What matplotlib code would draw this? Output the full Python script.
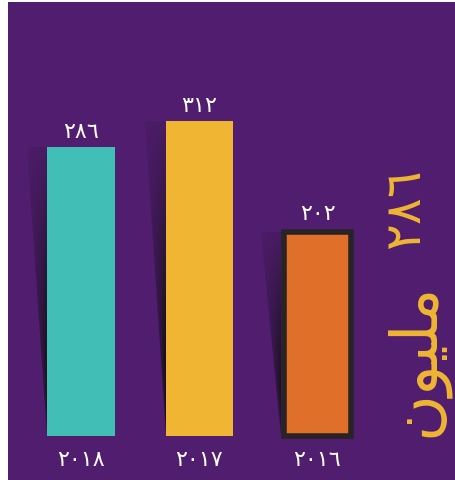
"""Yearly totals as flat bars with wedge shadows on a purple panel."""

import matplotlib

matplotlib.use("Agg")
import matplotlib.pyplot as plt
import numpy as np
from matplotlib.patches import Polygon

# data, newest year first (right-to-left layout)
years = [2018, 2017, 2016]
values = [286, 312, 202]
bar_colors = ["#41bfb6", "#efb533", "#e07029"]
outlined = [False, False, True]

# "مليون" in presentation forms, visual (left-to-right) order
unit_word = "\ufee5\ufeee\ufef4\ufee0\ufee3"

BG = "#511d6f"
TEXT = "#ffffff"
ACCENT = "#efb533"
OUTLINE = "#272326"

AR_DIGITS = str.maketrans("0123456789", "٠١٢٣٤٥٦٧٨٩")


def ar(n):
    return str(n).translate(AR_DIGITS)


plt.rcParams["font.family"] = ["DejaVu Sans"]

fig = plt.figure(figsize=(4.55, 4.81), dpi=100, facecolor="white")
ax = fig.add_axes([8 / 455, 0, 447 / 455, 478 / 481])
ax.set_facecolor(BG)
ax.set_xlim(-0.617, 3.163)
ax.set_ylim(-43.6, 429.7)
ax.set_xticks([])
ax.set_yticks([])
for spine in ax.spines.values():
    spine.set_visible(False)

x = np.arange(len(values))
bars = ax.bar(x, values, width=0.57, color=bar_colors, zorder=3)
for bar, flag in zip(bars, outlined):
    if flag:
        bar.set_edgecolor(OUTLINE)
        bar.set_linewidth(4)
        bar.set_joinstyle("miter")

# wedge shadow hanging off the left edge of every bar:
# wide and faint at the top, narrow and near-black at the foot
d = 0.17
rows, cols = 300, 80
v = np.linspace(0, 1, rows)[:, None]
c = np.linspace(0, 1, cols)[None, :]
u = np.clip((c - v) / np.maximum(1 - v, 1e-3), 0, 1)
alpha = np.clip(0.12 + 1.1 * v, 0, 0.95) * (0.5 + 0.5 * u)
shade = np.zeros((rows, cols, 4))
shade[..., :3] = 0.06
shade[..., 3] = alpha

for bar, flag in zip(bars, outlined):
    left = bar.get_x() - (0.02 if flag else 0)
    top = bar.get_height()
    wedge = Polygon([(left - d, top), (left, top), (left, 0)],
                    closed=True, transform=ax.transData)
    im = ax.imshow(shade, extent=(left - d, left, 0, top), origin="upper",
                   aspect="auto", interpolation="bilinear", zorder=2)
    im.set_clip_path(wedge)

# value labels above, years below
for xi, val, flag in zip(x, values, outlined):
    ax.annotate(ar(val), xy=(xi, val), xytext=(0, 9 if flag else 7),
                textcoords="offset points", ha="center", va="baseline",
                color=TEXT, fontsize=16)
for xi, yr in zip(x, years):
    ax.annotate(ar(yr), xy=(xi, 0), xytext=(0, -21),
                textcoords="offset points", ha="center", va="baseline",
                color=TEXT, fontsize=16)

# vertical unit caption on the right: word from the bottom, number at the top
fig.text(433 / 455, 44 / 481, unit_word,
         rotation=90, rotation_mode="anchor", ha="left", va="baseline",
         color=ACCENT, fontsize=46)
fig.text(419 / 455, 313 / 481, ar(values[0]),
         rotation=90, rotation_mode="anchor", ha="right", va="baseline",
         color=ACCENT, fontsize=36)

fig.savefig("out.png", dpi=100, facecolor=fig.get_facecolor())
plt.close(fig)
